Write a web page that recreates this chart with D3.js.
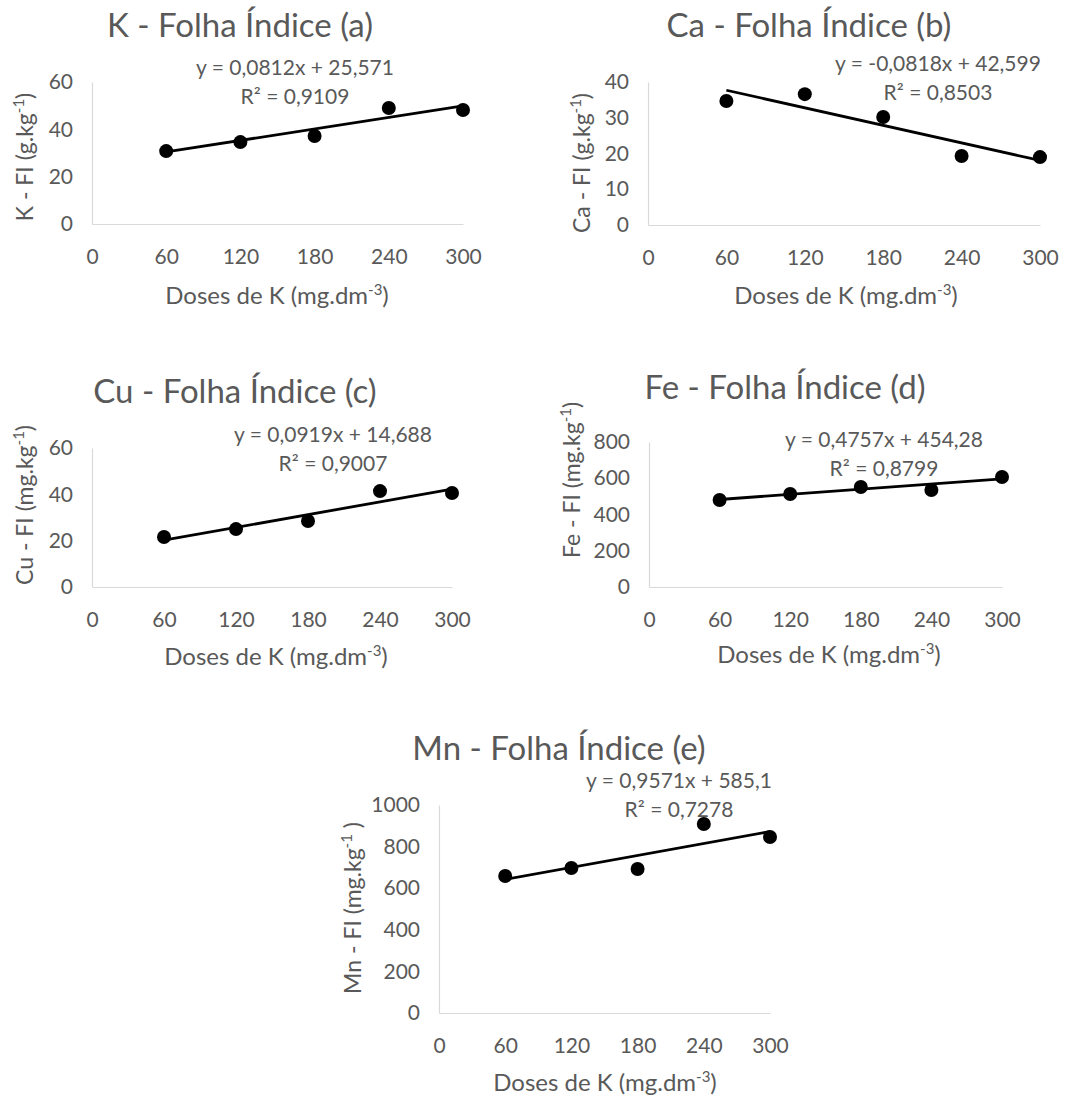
<!DOCTYPE html>
<html>
<head>
<meta charset="utf-8">
<script src="https://cdn.jsdelivr.net/npm/d3@7/dist/d3.min.js"></script>
<style>
  body { margin: 0; background: #fff; }
  text { font-family: Lato, "Open Sans", sans-serif; fill: #595959; }
</style>
</head>
<body>
<div id="chart"></div>
<script>
// doses of K (x values) and axis ticks
let doses = [60, 120, 180, 240, 300];
let xTicks = [0, 60, 120, 180, 240, 300];

let kValues  = [30.8, 34.6, 37.2, 49.0, 48.2];
let caValues = [34.7, 36.6, 30.2, 19.3, 19.0];
let cuValues = [21.6, 25.0, 28.5, 41.4, 40.6];
let feValues = [480, 513, 552, 535, 607];
let mnValues = [659, 697, 692, 909, 846];

let kTicks  = [0, 20, 40, 60];
let caTicks = [0, 10, 20, 30, 40];
let cuTicks = [0, 20, 40, 60];
let feTicks = [0, 200, 400, 600, 800];
let mnTicks = [0, 200, 400, 600, 800, 1000];

// trend lines
let slopes     = [0.0812, -0.0818, 0.0919, 0.4757, 0.9571];
let intercepts = [25.571, 42.599, 14.688, 454.28, 585.1];
let equations  = ["y = 0,0812x + 25,571", "y = -0,0818x + 42,599", "y = 0,0919x + 14,688",
                  "y = 0,4757x + 454,28", "y = 0,9571x + 585,1"];
let rSquared   = ["R² = 0,9109", "R² = 0,8503", "R² = 0,9007", "R² = 0,8799", "R² = 0,7278"];

let titles  = ["K - Folha Índice (a)", "Ca - Folha Índice (b)", "Cu - Folha Índice (c)",
               "Fe - Folha Índice (d)", "Mn - Folha Índice (e)"];
let yTitles = [["K - FI  (g.kg", ")"], ["Ca - FI (g.kg", ")"], ["Cu - FI (mg.kg", ")"],
               ["Fe - FI (mg.kg", ")"], ["Mn - FI (mg.kg", " )"]];
let xTitle = ["Doses de K (mg.dm", "-3", ")"];

let allValues = [kValues, caValues, cuValues, feValues, mnValues];
let allTicks  = [kTicks, caTicks, cuTicks, feTicks, mnTicks];

// where each panel sits on the page
let boxes = [
  {left: 92,  right: 463,  top: 82,  bottom: 224,  tx: 240, ty: 37,  ex: 295, ey: 75,  ylx: 25,  yly: 157, xlx: 277, xly: 304},
  {left: 648, right: 1040, top: 82,  bottom: 225,  tx: 809, ty: 37,  ex: 938, ey: 71,  ylx: 582, yly: 163, xlx: 846, xly: 304},
  {left: 92,  right: 452,  top: 448, bottom: 587,  tx: 235, ty: 403, ex: 333, ey: 442, ylx: 25,  yly: 505, xlx: 276, xly: 665},
  {left: 649, right: 1002, top: 442, bottom: 587,  tx: 785, ty: 399, ex: 884, ey: 447, ylx: 572, yly: 480, xlx: 829, xly: 663},
  {left: 439, right: 770,  top: 805, bottom: 1013, tx: 559, ty: 760, ex: 679, ey: 788, ylx: 353, yly: 908, xlx: 605, xly: 1091}
];

let dim = {"width": 1085, "height": 1097};

let svg = d3.select("#chart")
            .append("svg")
            .attr("width", dim.width)
            .attr("height", dim.height);

boxes.forEach(function(box, i) {
    let g = svg.append("g");
    let values = allValues[i];
    let ticks = allTicks[i];

    let scaleX = d3.scaleLinear()
                   .domain([0, 300])
                   .range([box.left, box.right]);
    let scaleY = d3.scaleLinear()
                   .domain([0, d3.max(ticks)])
                   .range([box.bottom, box.top]);

    // x axis (labels sit well below the line, as in the original)
    let axisX = g.append("g")
                 .attr("transform", `translate(0, ${box.bottom})`)
                 .call(d3.axisBottom(scaleX).tickValues(xTicks).tickSize(0).tickPadding(25)
                       .tickFormat(d3.format("d")));
    axisX.select(".domain").attr("stroke", "#d9d9d9").attr("stroke-width", 1.2);
    axisX.selectAll("text").attr("font-size", "21px").attr("fill", "#595959")
         .style("font-family", "Lato, sans-serif");

    let axisY = g.append("g")
                 .attr("transform", `translate(${box.left}, 0)`)
                 .call(d3.axisLeft(scaleY).tickValues(ticks).tickSize(0).tickPadding(19)
                       .tickFormat(d3.format("d")));
    axisY.select(".domain").attr("stroke", "#d9d9d9").attr("stroke-width", 1.2);
    axisY.selectAll("text").attr("font-size", "21px").attr("fill", "#595959")
         .style("font-family", "Lato, sans-serif");

    // trend line
    let line = d3.line()
                 .x(d => scaleX(d))
                 .y(d => scaleY(slopes[i] * d + intercepts[i]));
    g.append("path")
     .attr("d", line([doses[0], doses[doses.length - 1]]))
     .attr("fill", "none")
     .attr("stroke", "#000")
     .attr("stroke-width", 2.8);

    // points
    g.selectAll("circle")
     .data(values)
     .join("circle")
     .attr("cx", (d, j) => scaleX(doses[j]))
     .attr("cy", d => scaleY(d))
     .attr("r", 7)
     .attr("fill", "#000");

    // title
    g.append("text")
     .attr("x", box.tx).attr("y", box.ty)
     .attr("text-anchor", "middle")
     .attr("font-size", "33px")
     .text(titles[i]);

    // equation + r2
    g.append("text")
     .attr("x", box.ex).attr("y", box.ey)
     .attr("text-anchor", "middle")
     .attr("font-size", "21px")
     .text(equations[i]);
    g.append("text")
     .attr("x", box.ex).attr("y", box.ey + 29)
     .attr("text-anchor", "middle")
     .attr("font-size", "21px")
     .text(rSquared[i]);

    // y title
    let yt = g.append("text")
              .attr("transform", `translate(${box.ylx + 8}, ${box.yly}) rotate(-90)`)
              .attr("text-anchor", "middle")
              .attr("font-size", "23px");
    yt.append("tspan").text(yTitles[i][0]);
    yt.append("tspan").attr("font-size", "15px").attr("dy", -9).text("-1");
    yt.append("tspan").attr("dy", 9).text(yTitles[i][1]);

    // x title
    let xt = g.append("text")
              .attr("x", box.xlx).attr("y", box.xly)
              .attr("text-anchor", "middle")
              .attr("font-size", "24px");
    xt.append("tspan").text(xTitle[0]);
    xt.append("tspan").attr("font-size", "15px").attr("dy", -9).text(xTitle[1]);
    xt.append("tspan").attr("dy", 9).text(xTitle[2]);
});
</script>
</body>
</html>
